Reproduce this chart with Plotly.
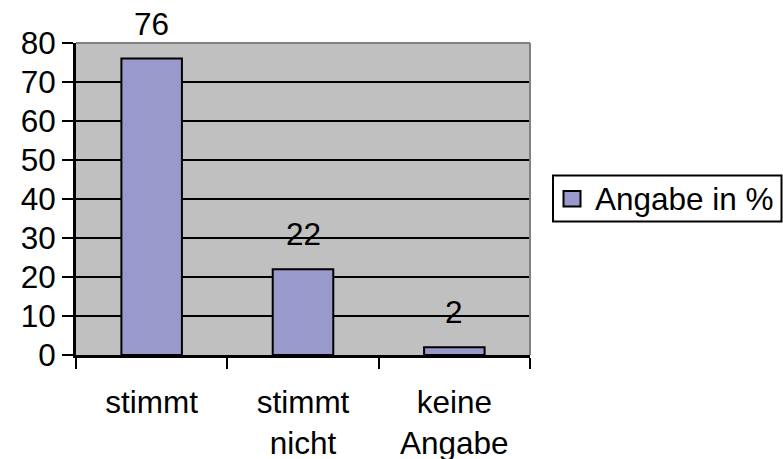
import plotly.graph_objects as go

categories = ["stimmt", "stimmt<br>nicht", "keine<br>Angabe"]
values = [76, 22, 2]
series_name = "Angabe in %"
y_ticks = [0, 10, 20, 30, 40, 50, 60, 70, 80]

FONT = "Liberation Sans, Arial, sans-serif"
FS = 31.5
BAR_COLOR = "#9999CC"

W, H = 783, 459
ML, MR, MT, MB = 76, 253, 43, 104
PW, PH = W - ML - MR, H - MT - MB


def px_x(p):
    return (p - ML) / PW


def px_y(p):
    return (H - MB - p) / PH


fig = go.Figure()
fig.add_trace(go.Bar(
    x=categories, y=values, name=series_name,
    marker=dict(color=BAR_COLOR, line=dict(color="black", width=2)),
    showlegend=False,
))

for c, v in zip(categories, values):
    fig.add_annotation(x=c, y=v, text=str(v), showarrow=False,
                       yanchor="bottom", yshift=15,
                       font=dict(family=FONT, size=FS, color="black"))

# gray border on top and right of plot area
fig.add_shape(type="line", xref="paper", yref="paper", x0=0, x1=1, y0=1, y1=1,
              line=dict(color="#808080", width=2))
fig.add_shape(type="line", xref="paper", yref="paper", x0=1, x1=1, y0=0, y1=1,
              line=dict(color="#808080", width=2))

# legend (box, swatch, label)
fig.add_shape(type="rect", xref="paper", yref="paper",
              x0=px_x(553), x1=px_x(781.5), y0=px_y(221.5), y1=px_y(175.5),
              line=dict(color="black", width=2), fillcolor="white")
fig.add_shape(type="rect", xref="paper", yref="paper",
              x0=px_x(563.5), x1=px_x(580.5), y0=px_y(206.5), y1=px_y(191),
              line=dict(color="black", width=2), fillcolor=BAR_COLOR)
fig.add_annotation(xref="paper", yref="paper", x=px_x(593), y=px_y(198.5),
                   xanchor="left", yanchor="middle", showarrow=False,
                   text=series_name,
                   font=dict(family=FONT, size=FS, color="black"))

fig.update_layout(
    width=W, height=H,
    margin=dict(l=ML, r=MR, t=MT, b=MB, autoexpand=False),
    plot_bgcolor="#C0C0C0", paper_bgcolor="white",
    font=dict(family=FONT, size=FS, color="black"),
    bargap=0.6,
    showlegend=False,
    xaxis=dict(showline=True, linecolor="black", linewidth=3, automargin=False,
               ticks="outside", ticklen=11, tickwidth=2, tickcolor="black",
               tickson="boundaries", showgrid=False, ticklabelstandoff=17),
    yaxis=dict(range=[0, 80], tickvals=y_ticks, showline=True, linecolor="black",
               linewidth=3, ticks="outside", ticklen=11, tickwidth=2, tickcolor="black",
               showgrid=True, gridcolor="black", gridwidth=2, zeroline=False,
               automargin=False, ticklabelstandoff=0),
)

fig.write_html("out.html", config={"displayModeBar": False},
               post_script="document.body.style.margin='0';document.body.style.padding='0';")
